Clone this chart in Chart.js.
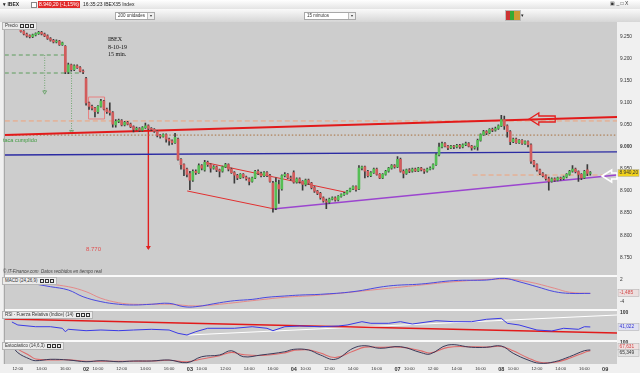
<!DOCTYPE html>
<html lang="es">
<head>
<meta charset="utf-8">
<title>IBEX 8-10-19 15 min.</title>
<script src="https://cdn.jsdelivr.net/npm/chart.js@4.4.1/dist/chart.umd.min.js"></script>
<style>
  body { margin: 0; background: #efefef; }
  #frame { position: relative; width: 640px; height: 373px; overflow: hidden; font-family: "Liberation Sans", Arial, sans-serif; }
  #chart { position: absolute; left: 0; top: 0; }
  .abs { position: absolute; white-space: nowrap; line-height: 1; }
  #row1 { left: 0; top: 0; width: 640px; height: 9px; background: linear-gradient(#ffffff, #e4e4e4); }
  #row2 { left: 0; top: 9px; width: 640px; height: 13px; background: linear-gradient(#fafafa, #d6d6d6); }
  .tiny { font-size: 5px; color: #222; }
  .combo { height: 8px; background: #fff; border: 1px solid #a8a8a8; font-size: 4.5px; color: #333; line-height: 6px; padding-left: 2px; box-sizing: border-box; }
  .combo b { position: absolute; right: 0; top: 0; width: 6px; height: 6px; border-left: 1px solid #bbb; background: #eee; font-size: 4px; text-align: center; line-height: 6px; font-weight: normal; }
  .tag { height: 6px; padding: 0 2px; background: #ebebeb; border: 1px solid #b5b5b5; font-size: 4.5px; line-height: 6px; color: #333; }
  .tag i { display: inline-block; width: 4px; height: 4px; border: 1px solid #333; margin-left: 1px; vertical-align: middle; box-sizing: border-box; }
  .note { font-family: "Liberation Serif", serif; font-size: 6px; color: #111; }
</style>
</head>
<body>
<div id="frame">
  <canvas id="chart" width="640" height="373"></canvas>

  <div id="row1" class="abs"></div>
  <div class="abs tiny" style="left:3px;top:2px;font-weight:bold">▾ IBEX</div>
  <div class="abs" style="left:31px;top:2px;width:4px;height:4px;background:#fff;border:1px solid #888"></div>
  <div class="abs tiny" style="left:38px;top:1px;width:42px;height:7px;line-height:7px;background:#e12b2b;color:#fff;padding-left:1px;box-sizing:border-box">8.940,20 (-1,15%)</div>
  <div class="abs tiny" style="left:83px;top:2px">16:35:23 IBEX35 Index</div>
  <div class="abs tiny" style="left:610px;top:1px;color:#333">▣ _ □ X</div>

  <div id="row2" class="abs"></div>
  <div class="abs combo" style="left:115px;top:12px;width:40px">200 unidades<b>▾</b></div>
  <div class="abs combo" style="left:304px;top:12px;width:52px">15 minutos<b>▾</b></div>
  <div class="abs" style="left:505px;top:10px;width:14px;height:9px;border:1px solid #bbb;background:linear-gradient(90deg,#c33 0 30%,#3a3 30% 60%,#c93 60%)"></div>
  <div class="abs tiny" style="left:521px;top:13px">▾</div>

  <div class="abs tag" style="left:2px;top:22px">Precio <i></i><i></i><i></i></div>
  <div class="abs tag" style="left:2px;top:277px">MACD (24,26,9) <i></i><i></i><i></i></div>
  <div class="abs tag" style="left:2px;top:311px">RSI - Fuerza Relativa (Indice) (14) <i></i><i></i><i></i></div>
  <div class="abs tag" style="left:2px;top:342px">Estocástico (14,6,3) <i></i><i></i><i></i></div>

  <div class="abs note" style="left:108px;top:36px">IBEX</div>
  <div class="abs note" style="left:108px;top:44px">8-10-19</div>
  <div class="abs note" style="left:108px;top:51px">15 min.</div>
  <div class="abs" style="left:3px;top:138px;font-size:5.5px;color:#3f9a3f">taca cumplido</div>
  <div class="abs" style="left:86px;top:246px;font-size:6px;color:#e05050">8.770</div>
  <div class="abs" style="left:3px;top:270px;font-size:4.5px;font-style:italic;color:#444">© IT-Finance.com &nbsp;Datos recibidos en tiempo real</div>
</div>

<script>
// 15-minute candles, Oct 1 11:30 -> Oct 8 16:30 (35 slots per session)
const firstSlot = 10

const opens = [
  9282, 9276, 9272, 9268, 9262, 9256, 9252, 9250, 9254, 9257, 9260, 9256, 9252, 9246, 9242, 9238, 9240, 9232, 9228, 9170, 9186, 9175, 9184, 9180, 9172,
  9155, 9100, 9092, 9088, 9080, 9092, 9104, 9086, 9082, 9078, 9050, 9058, 9060, 9050, 9056, 9052, 9046, 9040, 9042, 9038, 9044, 9048, 9042, 9040, 9036, 9026, 9024, 9028, 9018, 9014, 9010, 9018, 8972, 8960, 8950,
  8940, 8925, 8945, 8942, 8958, 8948, 8965, 8960, 8952, 8955, 8948, 8945, 8955, 8960, 8950, 8942, 8936, 8930, 8938, 8932, 8928, 8922, 8930, 8945, 8940, 8935, 8942, 8935, 8918, 8862, 8915, 8905, 8935, 8938, 8930,
  8942, 8920, 8928, 8922, 8915, 8925, 8918, 8908, 8900, 8895, 8885, 8878, 8875, 8882, 8885, 8880, 8888, 8892, 8895, 8900, 8905, 8910, 8905, 8952, 8955, 8945, 8935, 8942, 8950, 8938, 8930, 8938, 8945, 8952, 8958,
  8955, 8972, 8945, 8940, 8948, 8945, 8950, 8946, 8952, 8948, 8945, 8950, 8952, 8960, 8982, 9000, 9008, 9002, 8998, 9002, 9000, 9004, 9000, 9005, 9008, 9002, 8998, 9000, 9015, 9028, 9035, 9032, 9040, 9038, 9042,
  9048, 9062, 9048, 9035, 9012, 9018, 9010, 9015, 9008, 9012, 9005, 8968, 8960, 8948, 8940, 8935, 8928, 8922, 8928, 8925, 8930, 8928, 8932, 8938, 8945, 8950, 8944, 8938, 8930, 8948, 8940
]
const highs = [
  9284, 9278, 9274, 9270, 9264, 9258, 9254, 9256, 9259, 9262, 9262, 9258, 9254, 9248, 9244, 9243, 9242, 9238, 9230, 9190, 9188, 9186, 9186, 9182, 9175,
  9158, 9102, 9095, 9090, 9094, 9108, 9106, 9088, 9100, 9080, 9062, 9063, 9062, 9058, 9058, 9054, 9048, 9045, 9044, 9046, 9054, 9050, 9044, 9042, 9038, 9028, 9030, 9030, 9020, 9016, 9031, 9020, 8974, 8962, 8952,
  8945, 8948, 8948, 8962, 8960, 8970, 8968, 8962, 8958, 8957, 8950, 8957, 8963, 8962, 8952, 8944, 8938, 8940, 8940, 8934, 8930, 8932, 8947, 8948, 8943, 8944, 8944, 8938, 8922, 8930, 8925, 8937, 8942, 8940, 8934,
  8946, 8930, 8930, 8924, 8927, 8927, 8920, 8910, 8902, 8897, 8887, 8882, 8884, 8887, 8887, 8890, 8894, 8897, 8902, 8907, 8912, 8912, 8958, 8957, 8957, 8947, 8944, 8952, 8952, 8940, 8940, 8947, 8954, 8960, 8960,
  8978, 8975, 8948, 8950, 8951, 8952, 8952, 8954, 8954, 8950, 8952, 8955, 8962, 8985, 9009, 9011, 9010, 9004, 9004, 9004, 9006, 9006, 9007, 9011, 9010, 9004, 9002, 9018, 9030, 9038, 9037, 9042, 9043, 9045, 9050,
  9072, 9070, 9050, 9037, 9020, 9020, 9017, 9017, 9014, 9014, 9007, 8970, 8962, 8950, 8942, 8937, 8932, 8930, 8930, 8932, 8932, 8934, 8940, 8947, 8958, 8952, 8946, 8940, 8947, 8960, 8944
]
const lows = [
  9274, 9270, 9266, 9260, 9254, 9249, 9247, 9248, 9252, 9255, 9254, 9250, 9244, 9240, 9236, 9236, 9230, 9230, 9166, 9166, 9172, 9173, 9178, 9170, 9166,
  9095, 9085, 9084, 9068, 9076, 9090, 9084, 9076, 9072, 9045, 9045, 9055, 9048, 9048, 9050, 9044, 9034, 9038, 9035, 9036, 9042, 9040, 9037, 9033, 9023, 9020, 9022, 9011, 9004, 9006, 9008, 8970, 8950, 8935, 8932,
  8903, 8922, 8938, 8940, 8948, 8945, 8956, 8943, 8950, 8944, 8932, 8943, 8953, 8946, 8940, 8918, 8926, 8928, 8930, 8925, 8914, 8920, 8928, 8937, 8932, 8933, 8933, 8920, 8852, 8858, 8872, 8902, 8932, 8928, 8925,
  8918, 8918, 8918, 8902, 8912, 8915, 8905, 8897, 8892, 8882, 8875, 8860, 8872, 8880, 8877, 8878, 8886, 8890, 8893, 8898, 8903, 8900, 8903, 8948, 8930, 8932, 8933, 8940, 8936, 8928, 8928, 8936, 8943, 8950, 8952,
  8953, 8943, 8930, 8938, 8942, 8943, 8944, 8944, 8946, 8940, 8943, 8948, 8950, 8958, 8980, 8998, 9000, 8994, 8996, 8996, 8998, 8997, 8998, 9003, 9000, 8993, 8995, 8993, 9013, 9026, 9028, 9030, 9035, 9036, 9040,
  9046, 9040, 9022, 9005, 9010, 9008, 9008, 9006, 9006, 9000, 8963, 8955, 8945, 8937, 8932, 8925, 8902, 8920, 8922, 8923, 8925, 8926, 8930, 8936, 8943, 8941, 8922, 8926, 8928, 8935, 8936
]
const closes = [
  9276, 9272, 9268, 9262, 9256, 9252, 9250, 9254, 9257, 9260, 9256, 9252, 9246, 9242, 9238, 9240, 9232, 9236, 9170, 9186, 9175, 9184, 9180, 9172, 9170,
  9100, 9092, 9088, 9080, 9092, 9104, 9086, 9080, 9078, 9052, 9058, 9060, 9050, 9056, 9052, 9046, 9040, 9042, 9038, 9044, 9048, 9042, 9040, 9036, 9026, 9024, 9028, 9018, 9014, 9010, 9022, 8972, 8960, 8950, 8938,
  8925, 8945, 8942, 8958, 8952, 8965, 8960, 8952, 8955, 8948, 8945, 8955, 8960, 8950, 8942, 8936, 8930, 8938, 8932, 8928, 8922, 8930, 8945, 8940, 8935, 8942, 8935, 8922, 8862, 8920, 8905, 8935, 8938, 8930, 8928,
  8920, 8928, 8922, 8915, 8925, 8918, 8908, 8900, 8895, 8885, 8878, 8875, 8882, 8885, 8880, 8888, 8892, 8895, 8900, 8905, 8910, 8903, 8952, 8955, 8945, 8935, 8942, 8950, 8938, 8930, 8938, 8945, 8952, 8958, 8955,
  8972, 8945, 8940, 8948, 8945, 8950, 8946, 8952, 8948, 8945, 8950, 8952, 8960, 8982, 9000, 9008, 9002, 8998, 9002, 9000, 9004, 9000, 9005, 9008, 9002, 8998, 9000, 9015, 9028, 9035, 9032, 9040, 9038, 9042, 9048,
  9062, 9048, 9035, 9012, 9018, 9010, 9015, 9008, 9012, 9005, 8968, 8960, 8948, 8940, 8935, 8928, 8922, 8928, 8925, 8930, 8928, 8932, 8938, 8945, 8950, 8944, 8938, 8930, 8945, 8940, 8940
]

// x axis: slot 0 = Oct 1 09:00, each day 35 slots
const tickSlots = [12, 20, 28, 35, 39, 47, 55, 63, 70, 74, 82, 90, 98, 105, 109, 117, 125, 133, 140, 144, 152, 160, 168, 175, 179, 187, 195, 203, 210]
const tickLabels = ['12:00', '14:00', '16:00', '02', '10:00', '12:00', '14:00', '16:00', '03', '10:00', '12:00', '14:00', '16:00',
  '04', '10:00', '12:00', '14:00', '16:00', '07', '10:00', '12:00', '14:00', '16:00', '08', '10:00', '12:00', '14:00', '16:00', '09']
const priceTicks = [8750, 8800, 8850, 8900, 8950, 9000, 9050, 9100, 9150, 9200, 9250]

// MACD (24,26,9)
const macdSlots = [10, 15, 23, 29, 34, 40, 46, 51, 57, 63, 68, 72, 80, 85, 91, 96, 102, 107, 114, 125, 137, 148, 159, 170, 176, 181, 187, 193, 198, 205]
const macdValues = [1.7, 1.15, 0.08, -0.8, -2.6, -3.9, -4.6, -4.8, -4.6, -4.35, -5.25, -5.25, -4.2, -3.65, -3.3, -2.75, -2.4, -2.15, -1.95, -1.25, 0.27, 0.8, 1.7, 1.85, 2.3, 1.4, 0.08, -1.25, -1.7, -1.7]
const signalSlots = [10, 18, 29, 35, 40, 46, 51, 63, 72, 80, 91, 102, 114, 137, 148, 159, 176, 184, 193, 198, 205]
const signalValues = [1.6, 1.15, 0.08, -1.25, -3.0, -4.2, -4.6, -4.6, -5.05, -4.6, -3.65, -2.75, -2.15, -0.35, 0.53, 1.4, 2.13, 1.4, -0.35, -1.4, -1.7]

// RSI (14)
const rsiSlots = [10, 12, 18, 23, 27, 28, 29, 35, 40, 46, 51, 57, 63, 66, 69, 72, 76, 85, 91, 96, 98, 102, 107, 114, 120, 123, 128, 131, 137, 141, 145, 153, 159, 165, 170, 175, 177, 181, 187, 192, 196, 201, 203, 205]
const rsiValues = [60.5, 48.1, 41, 41, 34.4, 20.3, 30.2, 24.4, 27.3, 24.4, 27.3, 30.2, 27.3, 13.6, 6.6, 20.3, 34.4, 34.4, 41, 34.4, 24.4, 41, 43.9, 41, 43.9, 48.1, 61.8, 55.1, 55.1, 61.8, 52.2, 65.9, 61.8, 61.8, 71.8, 75.9, 55.1, 48.1, 27.3, 23.2, 34.4, 30.2, 41, 40]

// Estocastico (14,6,3)
const stochSlots = [10, 12, 16, 18, 23, 29, 35, 40, 46, 51, 57, 63, 69, 74, 80, 84, 88, 94, 102, 105, 110, 114, 119, 125, 129, 134, 141, 148, 151, 157, 165, 170, 175, 179, 184, 188, 193, 198, 203, 205]
const kValues = [88.6, 53.6, 25, 17.3, 23.6, 20.5, 12.7, 17.3, 12.7, 15.9, 15.9, 20.5, 8.2, 35.5, 43.2, 62.7, 35.5, 43.2, 58, 69, 66, 43.2, 23.6, 73.6, 85.5, 73.6, 80.9, 53.6, 47.7, 88.6, 78.2, 78.2, 84, 51, 20.5, 5.5, 12.7, 35.5, 62.7, 66]
const dValues = [90, 70, 40, 25, 21, 21, 15, 15, 14, 15, 16, 19, 12, 25, 40, 55, 45, 41, 53, 64, 67, 52, 32, 60, 79, 78, 79, 62, 52, 78, 81, 79, 82, 62, 30, 10, 10, 28, 55, 63]

// drawn lines, [slot, value]
const resistance = [[7.6, 9027], [214, 9068]]
const blueLevel = [[7.6, 8982], [214, 8989]]
const dottedLevel = [[7.6, 9027], [214, 9027]]
const orangeUpper = [[7.6, 9059], [214, 9059]]
const orangeLower = [[165.3, 8936.5], [209.3, 8936.5]]
const purpleSupport = [[98, 8859.5], [214, 8936.5]]
const wedgeTop = [[75.5, 8964.4], [122.6, 8897.3]]
const wedgeBottom = [[69.1, 8900.3], [98.5, 8859.5]]
const targetDrop = [[56, 9043], [56, 8768.8]]
const greenTop = [[7.6, 9208.5], [27.8, 9208.5]]
const greenLow = [[7.6, 9167.7], [33.5, 9167.7]]
const greenDrop1 = [[21.05, 9208.5], [21.05, 9124.7]]
const greenDrop2 = [[30.1, 9167.7], [30.1, 9035]]
const boxOutline = [[35.84, 9113.3], [41.22, 9113.3], [41.22, 9063.5], [35.84, 9063.5], [35.84, 9113.3]]
const rsiRed = [[7.6, 73], [214, 14.9]]
const rsiWhite = [[69.5, 6.6], [214, 89.6]]
const redArrowTip = [184.4, 9063.5]
const whiteArrowTip = [208.95, 8934.3]

const candleX = closes.map((_, i) => firstSlot + i)
const pts = (xs, ys) => xs.map((x, i) => ({ x, y: ys[i] }))
const pairs = (arr) => arr.map(([x, y]) => ({ x, y }))

function line(points, color, width, extra = {}) {
  return {
    type: "line",
    data: pairs(points),
    borderColor: color,
    borderWidth: width,
    pointRadius: 0,
    tension: 0,
    yAxisID: "yPrice",
    order: 3,
    ...extra,
  }
}

function drawArrow(ctx, tx, ty, len, h, color, lw) {
  const hl = h * 0.8
  const sh = h * 0.25
  ctx.beginPath()
  ctx.moveTo(tx, ty)
  ctx.lineTo(tx + hl, ty - h / 2)
  ctx.lineTo(tx + hl, ty - sh)
  ctx.lineTo(tx + len, ty - sh)
  ctx.lineTo(tx + len, ty + sh)
  ctx.lineTo(tx + hl, ty + sh)
  ctx.lineTo(tx + hl, ty + h / 2)
  ctx.closePath()
  ctx.strokeStyle = color
  ctx.lineWidth = lw
  ctx.stroke()
}

function tag(ctx, y, text, bg, fg) {
  ctx.fillStyle = bg
  ctx.fillRect(618, Math.round(y) - 3.5, 21, 7)
  ctx.strokeStyle = "#aaa"
  ctx.lineWidth = 0.5
  ctx.strokeRect(618, Math.round(y) - 3.5, 21, 7)
  ctx.fillStyle = fg
  ctx.textBaseline = "middle"
  ctx.textAlign = "left"
  ctx.fillText(text, 619.5, Math.round(y))
}

const decor = {
  id: "decor",
  beforeDraw(chart) {
    const { ctx, chartArea: a, scales } = chart
    ctx.save()
    ctx.fillStyle = "#f0f0f0"
    ctx.fillRect(0, 0, chart.width, chart.height)
    ctx.fillStyle = "#cdcdcd"
    ctx.fillRect(a.left, a.top, a.right - a.left, a.bottom - a.top)
    ctx.fillStyle = "#fafafa"
    for (const id of ["yMacd", "yRsi", "yStoch"]) {
      ctx.fillRect(a.left, Math.round(scales[id].top) - 1, a.right - a.left, 2)
    }
    ctx.fillStyle = "#9a9a9a"
    ctx.fillRect(a.left - 1, a.top, 1, a.bottom - a.top)
    ctx.restore()
  },
  afterDraw(chart) {
    const { ctx, scales } = chart
    const { x, yPrice, yMacd, yRsi, yStoch } = scales
    ctx.save()
    drawArrow(ctx, x.getPixelForValue(redArrowTip[0]), yPrice.getPixelForValue(redArrowTip[1]), 26, 12, "#e42020", 1.3)
    drawArrow(ctx, x.getPixelForValue(whiteArrowTip[0]), yPrice.getPixelForValue(whiteArrowTip[1]), 15, 12, "#ffffff", 1.6)

    // arrow head of the measured drop
    const ax = x.getPixelForValue(targetDrop[1][0])
    const ay = yPrice.getPixelForValue(targetDrop[1][1])
    ctx.fillStyle = "#e02020"
    ctx.beginPath()
    ctx.moveTo(ax - 2.5, ay - 3)
    ctx.lineTo(ax + 2.5, ay - 3)
    ctx.lineTo(ax, ay + 1)
    ctx.closePath()
    ctx.fill()

    ctx.font = '4.8px "Liberation Sans"'
    tag(ctx, yPrice.getPixelForValue(8940.2), "8.940,20", "#f1d21c", "#333")
    tag(ctx, yMacd.getPixelForValue(-1.485), "-1,485", "#ecdede", "#d24545")
    tag(ctx, yRsi.getPixelForValue(41.022), "41,022", "#dfe0f2", "#3434d0")
    tag(ctx, yStoch.getPixelForValue(66.5) - 3, "67,631", "#efe0e0", "#d24545")
    tag(ctx, yStoch.getPixelForValue(66.5) + 3.5, "65,349", "#e4e4e4", "#333")
    ctx.restore()
  },
}

const rightAxis = (weight, min, max, ticks, extra = {}) => ({
  type: "linear",
  position: "right",
  stack: "panels",
  stackWeight: weight,
  min,
  max,
  grid: { display: false, drawTicks: false },
  border: { display: false },
  afterFit: (s) => { s.width = 23 },
  afterBuildTicks: (s) => { s.ticks = ticks.map((v) => ({ value: v })) },
  ticks: {
    padding: 3,
    color: "#333",
    font: { size: 4.8 },
    ...extra,
  },
})

new Chart(document.getElementById("chart"), {
  type: "bar",
  data: {
    datasets: [
      {
        label: "cuerpo",
        data: candleX.map((x, i) => ({ x, y: [opens[i], closes[i]] })),
        backgroundColor: (c) => closes[c.dataIndex] >= opens[c.dataIndex] ? "#55be55" : "#d25c5c",
        barThickness: 2,
        minBarLength: 1,
        grouped: false,
        yAxisID: "yPrice",
        order: 0,
      },
      {
        label: "mecha",
        data: candleX.map((x, i) => ({ x, y: [lows[i], highs[i]] })),
        backgroundColor: "#3b3b3b",
        barThickness: 1,
        grouped: false,
        yAxisID: "yPrice",
        order: 1,
      },
      line(resistance, "#e21a1a", 2),
      line(blueLevel, "#2b2ba3", 1.4),
      line(dottedLevel, "#a86f3c", 1, { borderDash: [1.5, 2] }),
      line(orangeUpper, "#f0a27a", 1, { borderDash: [5, 3] }),
      line(orangeLower, "#f0a27a", 1, { borderDash: [5, 3] }),
      line(purpleSupport, "#9b45cf", 1.4),
      line(wedgeTop, "#e23030", 1),
      line(wedgeBottom, "#e23030", 1),
      line(targetDrop, "#e02020", 1.4),
      line(greenTop, "#5c9c5c", 1, { borderDash: [4, 3] }),
      line(greenLow, "#5c9c5c", 1, { borderDash: [4, 3] }),
      line(greenDrop1, "#5c9c5c", 0.8, { borderDash: [1, 1.5], pointRadius: [0, 2.2], pointStyle: "triangle", rotation: 180, pointBorderColor: "#5c9c5c", pointBackgroundColor: "rgba(0,0,0,0)", pointBorderWidth: 0.8 }),
      line(greenDrop2, "#5c9c5c", 0.8, { borderDash: [1, 1.5], pointRadius: [0, 2.2], pointStyle: "triangle", rotation: 180, pointBorderColor: "#5c9c5c", pointBackgroundColor: "rgba(0,0,0,0)", pointBorderWidth: 0.8 }),
      line(boxOutline, "#e88080", 1),

      { type: "line", data: pts(signalSlots, signalValues), borderColor: "#e58a8a", borderWidth: 1, pointRadius: 0, tension: 0.4, yAxisID: "yMacd", order: 4 },
      { type: "line", data: pts(macdSlots, macdValues), borderColor: "#4a4ae0", borderWidth: 1, pointRadius: 0, tension: 0.4, yAxisID: "yMacd", order: 3 },

      { type: "line", data: pairs(rsiRed), borderColor: "#e21a1a", borderWidth: 1.6, pointRadius: 0, yAxisID: "yRsi", order: 4 },
      { type: "line", data: pairs(rsiWhite), borderColor: "#ffffff", borderWidth: 1.2, pointRadius: 0, yAxisID: "yRsi", order: 4 },
      { type: "line", data: pts(rsiSlots, rsiValues), borderColor: "#3a3ae6", borderWidth: 1, pointRadius: 0, tension: 0, yAxisID: "yRsi", order: 3 },

      { type: "line", data: pts(stochSlots, dValues), borderColor: "#df6a6a", borderWidth: 1.1, pointRadius: 0, tension: 0.4, yAxisID: "yStoch", order: 4 },
      { type: "line", data: pts(stochSlots, kValues), borderColor: "#3a3a5a", borderWidth: 1, pointRadius: 0, tension: 0.4, yAxisID: "yStoch", order: 3 },
    ],
  },
  options: {
    responsive: false,
    animation: false,
    layout: { padding: { top: 22, left: 3, right: 0, bottom: 0 } },
    plugins: { legend: { display: false }, tooltip: { enabled: false } },
    scales: {
      x: {
        type: "linear",
        min: 7.6,
        max: 214,
        offset: false,
        grid: { display: false, drawTicks: false, offset: false },
        border: { display: false },
        afterFit: (s) => { s.height = 9 },
        afterBuildTicks: (s) => { s.ticks = tickSlots.map((v) => ({ value: v })) },
        ticks: {
          autoSkip: false,
          maxRotation: 0,
          padding: 2,
          color: "#333",
          callback: (v) => tickLabels[tickSlots.indexOf(v)] ?? "",
          font: (c) => ({ size: c.tick && c.tick.value % 35 === 0 ? 5.5 : 4.3, weight: c.tick && c.tick.value % 35 === 0 ? "bold" : "normal" }),
        },
      },
      yPrice: rightAxis(254, 8707.6, 9283.3, priceTicks, {
        callback: (v) => v.toLocaleString("de-DE"),
        font: (c) => ({ size: 4.8, weight: c.tick && c.tick.value === 9000 ? "bold" : "normal" }),
      }),
      yMacd: rightAxis(34, -6.13, 2.93, [2, 0, -4]),
      yRsi: rightAxis(31, -18.4, 110.4, [100], { font: { size: 5, weight: "bold" } }),
      yStoch: rightAxis(23, 2.3, 106.8, [100], { font: { size: 5, weight: "bold" } }),
    },
  },
  plugins: [decor],
})
</script>
</body>
</html>
